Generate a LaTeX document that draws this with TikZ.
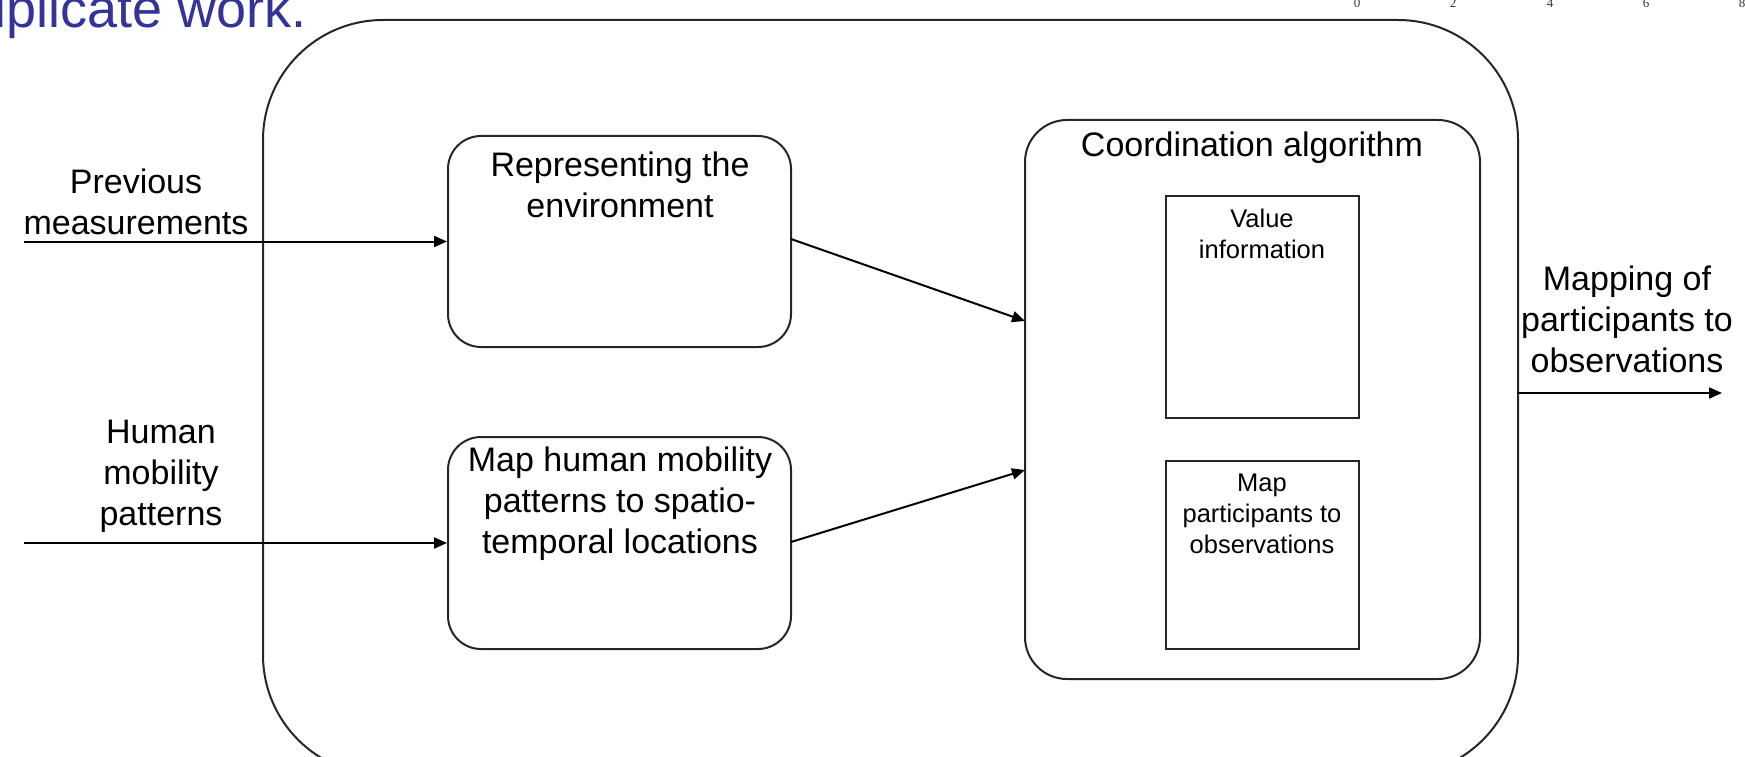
\documentclass[tikz,border=0pt]{standalone}
\usepackage{fontspec}
\setmainfont{Liberation Sans}
\newfontfamily\axisfont{Liberation Serif}
\usetikzlibrary{arrows.meta}
\definecolor{slideblue}{RGB}{51,51,153}
\tikzset{
  box/.style={draw=black!85, line width=2pt, rounded corners=33pt, inner sep=0pt},
  sqbox/.style={draw=black!85, line width=2pt, inner sep=0pt},
  lbl/.style={inner sep=0pt, align=center, font=\fontsize{34}{41}\selectfont},
  small/.style={inner sep=0pt, align=center, font=\fontsize{25.5}{31}\selectfont},
  arr/.style={line width=2pt, -{Triangle[length=13pt,width=11pt]}},
  tick/.style={inner sep=0pt, anchor=base, text=black!80, font=\axisfont\fontsize{13}{13}\selectfont}
}
\begin{document}
\begin{tikzpicture}[x=1pt,y=-1pt]
\useasboundingbox (0,0) rectangle (1745,757);
\begin{scope}
\clip (0,0) rectangle (1745,757);
% title fragment
\node[inner sep=0pt, anchor=base east, text=slideblue, font=\fontsize{54}{54}\selectfont] (title) at (307,28) {uplicate work.};
% axis fragment
\node[tick] (t0) at (1357,7.5) {0};
\node[tick] (t2) at (1453,7.5) {2};
\node[tick] (t4) at (1550,7.5) {4};
\node[tick] (t6) at (1646,7.5) {6};
\node[tick] (t8) at (1742,7.5) {8};
% outer box
\node[draw=black!85, line width=2pt, rounded corners=120pt, inner sep=0pt, minimum width=1255pt, minimum height=755pt] (outer) at (890.5,397.5) {};
\end{scope}
% inner blocks
\node[box, minimum width=343pt, minimum height=211pt] (env) at (619.5,241.5) {};
\node[lbl] (envt) at (620,184.5) {Representing the\\environment};
\node[box, minimum width=343pt, minimum height=212pt] (mob) at (619.5,543) {};
\node[lbl] (mobt) at (620,504) {Map human mobility\\patterns to spatio-\\temporal locations};
\node[box, rounded corners=42pt, minimum width=455pt, minimum height=559pt] (coord) at (1252.5,399.5) {};
\node[lbl] (coordt) at (1252,148) {Coordination algorithm};
\node[sqbox, minimum width=193pt, minimum height=222pt] (val) at (1262.5,307) {};
\node[small] (valt) at (1262,233.5) {Value\\information};
\node[sqbox, minimum width=193pt, minimum height=188pt] (mpo) at (1262.5,555) {};
\node[small] (mpot) at (1262,514) {Map\\participants to\\observations};
% outside labels
\node[lbl] (prev) at (136,202) {Previous\\measurements};
\node[lbl] (hum) at (161,476) {Human\\mobility\\patterns};
\node[lbl] (mapping) at (1627,319.5) {Mapping of\\participants to\\observations};
% connectors
\coordinate (in1) at (24,241.5);
\coordinate (in2) at (24,543);
\coordinate (e1) at (791,239);
\coordinate (e2) at (791,542);
\coordinate (c1) at (1025,321);
\coordinate (c2) at (1025,470);
\coordinate (o1) at (1517,393);
\coordinate (o2) at (1722,393);
\draw[arr] (in1) -- (env.west);
\draw[arr] (in2) -- (mob.west);
\draw[arr] (e1) -- (c1);
\draw[arr] (e2) -- (c2);
\draw[arr] (o1) -- (o2);
\end{tikzpicture}
\end{document}
